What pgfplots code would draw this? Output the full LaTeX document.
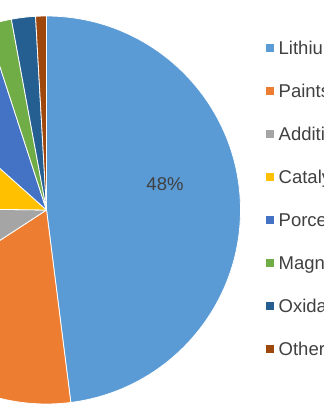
\documentclass[border=0pt]{standalone}
\usepackage{pgfplots}
\pgfplotsset{compat=1.18}
\usepackage{pgfplotstable}
\usepackage{fontspec}
\setmainfont{Liberation Sans}
\definecolor{cLith}{HTML}{5B9BD5}
\definecolor{cPaint}{HTML}{ED7D31}
\definecolor{cAdd}{HTML}{A5A5A5}
\definecolor{cCat}{HTML}{FFC000}
\definecolor{cPorc}{HTML}{4472C4}
\definecolor{cMagn}{HTML}{70AD47}
\definecolor{cOxid}{HTML}{255E91}
\definecolor{cOther}{HTML}{9E480E}
\definecolor{txt}{HTML}{404040}
\pgfplotstableread{
value color
48.0 cLith
17.8 cPaint
9.4 cAdd
11.4 cCat
8.4 cPorc
2.1 cMagn
2.0 cOxid
0.9 cOther
}\piedata
\begin{document}
\begin{tikzpicture}[x=1bp,y=1bp]
\useasboundingbox (0,0) rectangle (324,405);
\clip (0,0) rectangle (324,405);
\fill[white] (0,0) rectangle (324,405);
\begin{axis}[at={(46.5bp,195bp)}, anchor=origin, x=1bp, y=1bp,
  hide axis, xmin=-200, xmax=200, ymin=-200, ymax=200, clip=false]
\pgfplotstablegetrowsof{\piedata}
\pgfmathtruncatemacro\nrows{\pgfplotsretval-1}
\def\cum{0}
\pgfplotsforeachungrouped \i in {0,...,\nrows}{%
  \pgfplotstablegetelem{\i}{value}\of\piedata \let\sliceval\pgfplotsretval
  \pgfplotstablegetelem{\i}{color}\of\piedata \let\slicecol\pgfplotsretval
  \pgfmathsetmacro\sa{90-3.6*\cum}%
  \pgfmathsetmacro\ea{90-3.6*(\cum+\sliceval)}%
  \pgfmathsetmacro\sx{194*cos(\sa)}%
  \pgfmathsetmacro\sy{194*sin(\sa)}%
  \edef\temp{\noexpand\fill[fill=\slicecol, draw=white, line width=0.8bp, line join=round] (axis cs:0,0) -- (axis cs:\sx,\sy) arc[start angle=\sa, end angle=\ea, radius=194bp] -- cycle;}%
  \temp
  \pgfmathsetmacro\cum{\cum+\sliceval}%
}
\node[text=txt, font=\fontsize{18.5bp}{21bp}\selectfont] at (axis cs:118.5,26) {48\%};
\end{axis}
% legend
\foreach \k/\col/\name in {0/cLith/Lithium-ion Batteries,1/cPaint/Paints \& Pigments,2/cAdd/Additives,3/cCat/Catalysts,4/cPorc/Porcelain Enamel,5/cMagn/Magnets,6/cOxid/Oxidation Agents,7/cOther/Others}{
  \pgfmathsetmacro\yy{357-43*\k}
  \fill[\col] (266,\yy-4) rectangle (274,\yy+4);
  \node[anchor=base west, inner sep=0pt, text=txt, font=\fontsize{18.5bp}{21bp}\selectfont] at (278.5,\yy-6.5) {\name};
}
\end{tikzpicture}
\end{document}
